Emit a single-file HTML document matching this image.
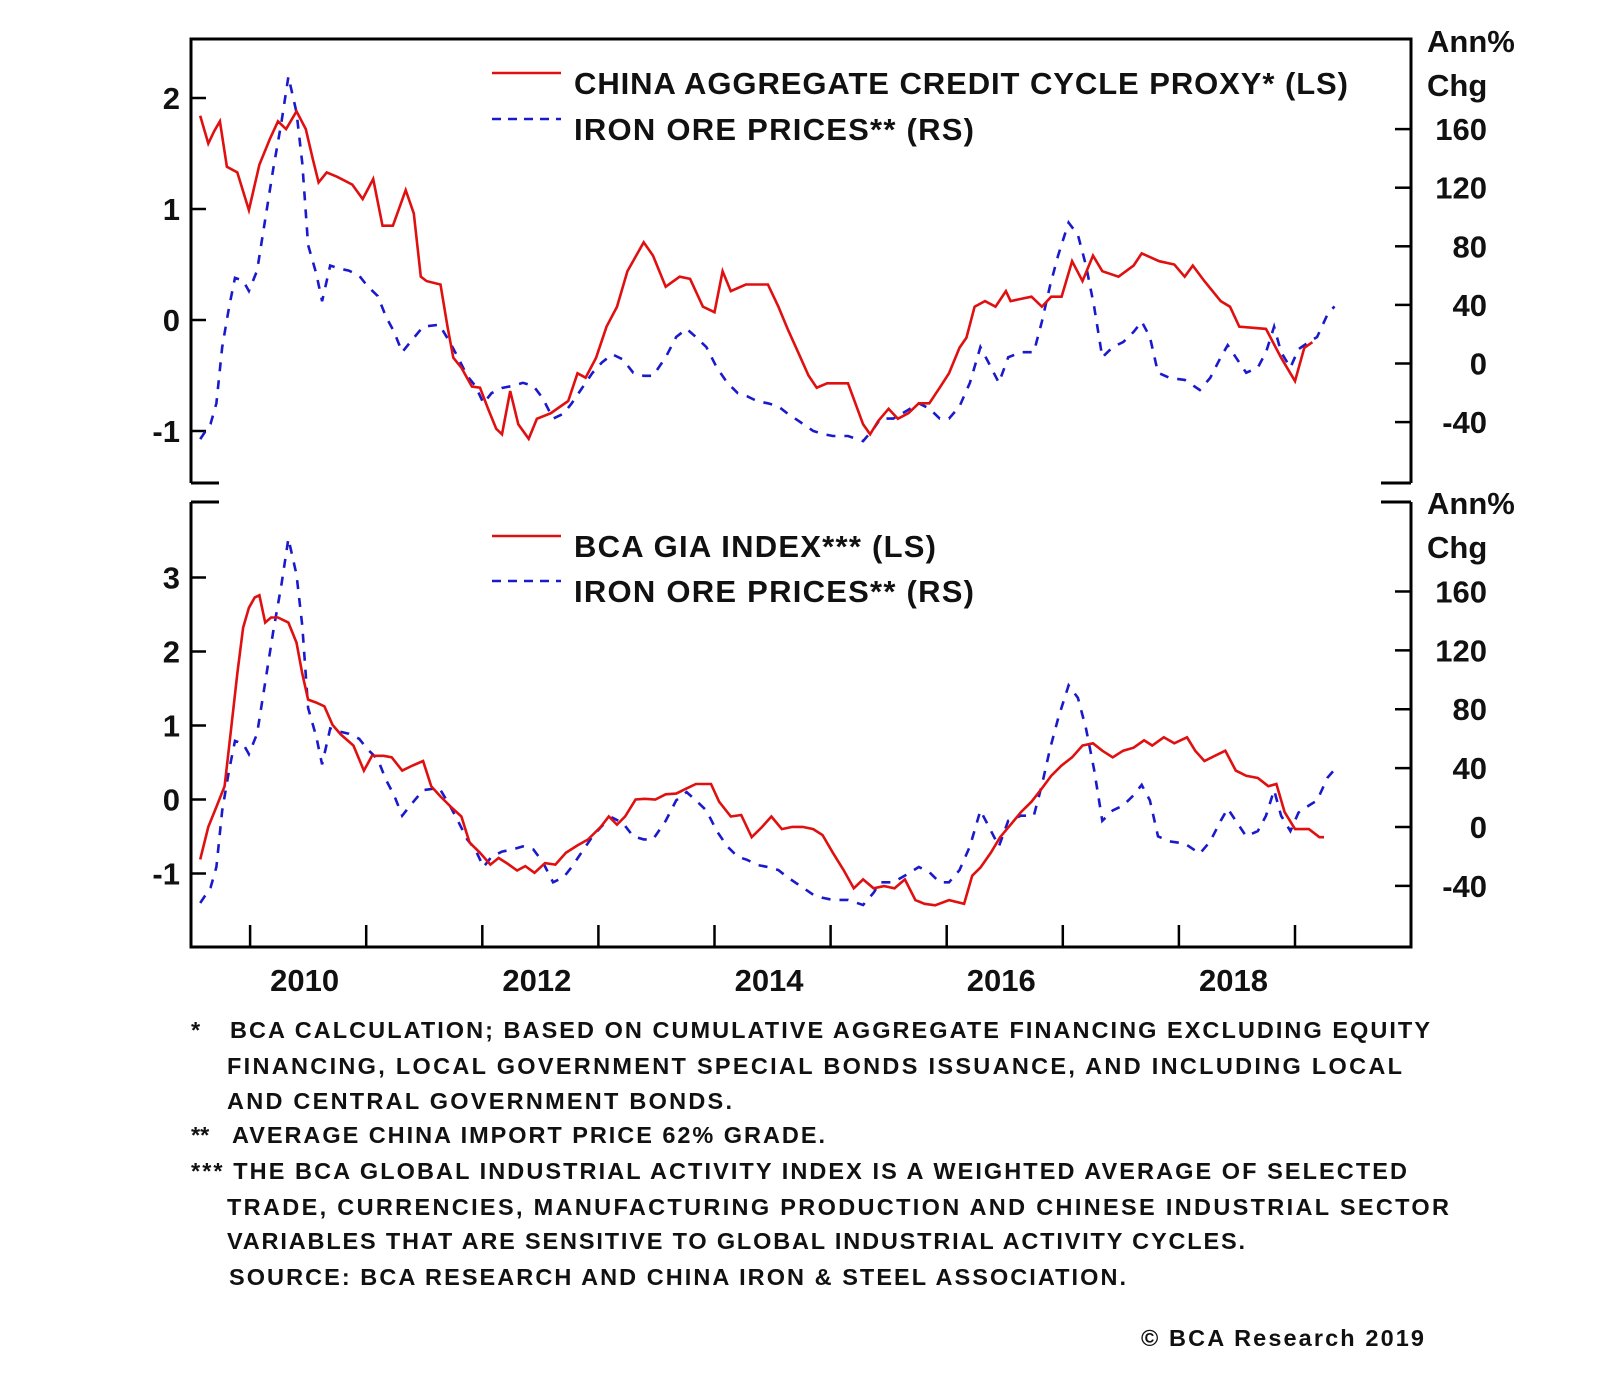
<!DOCTYPE html>
<html><head><meta charset="utf-8">
<style>
html,body{margin:0;padding:0;background:#fff;}
svg{display:block;}
text{font-family:"Liberation Sans",sans-serif;font-weight:bold;fill:#111;}
</style></head>
<body>
<svg id="chart" width="1600" height="1375" viewBox="0 0 1600 1375">
  <g id="frames"></g>
  <g id="marks"></g>
  <g id="labels"></g>
  <g id="notes" style="font-size:23.5px">
    <text x="191" y="1038">*</text>
    <text x="230" y="1038" textLength="1200">BCA CALCULATION; BASED ON CUMULATIVE AGGREGATE FINANCING EXCLUDING EQUITY</text>
    <text x="227" y="1074" textLength="1175">FINANCING, LOCAL GOVERNMENT SPECIAL BONDS ISSUANCE, AND INCLUDING LOCAL</text>
    <text x="227" y="1109" textLength="505">AND CENTRAL GOVERNMENT BONDS.</text>
    <text x="191" y="1143">**</text>
    <text x="232" y="1143" textLength="593">AVERAGE CHINA IMPORT PRICE 62% GRADE.</text>
    <text x="191" y="1179" textLength="1216">*** THE BCA GLOBAL INDUSTRIAL ACTIVITY INDEX IS A WEIGHTED AVERAGE OF SELECTED</text>
    <text x="227" y="1215" textLength="1222">TRADE, CURRENCIES, MANUFACTURING PRODUCTION AND CHINESE INDUSTRIAL SECTOR</text>
    <text x="227" y="1249" textLength="1018">VARIABLES THAT ARE SENSITIVE TO GLOBAL INDUSTRIAL ACTIVITY CYCLES.</text>
    <text x="229" y="1285" textLength="897">SOURCE: BCA RESEARCH AND CHINA IRON &amp; STEEL ASSOCIATION.</text>
    <text x="1141" y="1346" textLength="283">© BCA Research 2019</text>
  </g>
</svg>
<script>
const creditDates=[2009.57,2009.64,2009.69,2009.74,2009.80,2009.89,2009.99,2010.08,2010.17,2010.24,2010.31,2010.40,2010.48,2010.54,2010.59,2010.66,2010.75,2010.88,2010.97,2011.06,2011.14,2011.23,2011.34,2011.41,2011.47,2011.52,2011.64,2011.70,2011.75,2011.82,2011.91,2011.98,2012.05,2012.12,2012.17,2012.24,2012.31,2012.40,2012.47,2012.59,2012.74,2012.82,2012.89,2012.98,2013.07,2013.16,2013.25,2013.39,2013.47,2013.58,2013.70,2013.79,2013.90,2014.00,2014.07,2014.14,2014.27,2014.46,2014.55,2014.63,2014.72,2014.81,2014.88,2014.97,2015.15,2015.28,2015.34,2015.41,2015.50,2015.58,2015.67,2015.76,2015.85,2015.94,2016.02,2016.11,2016.17,2016.24,2016.33,2016.42,2016.51,2016.55,2016.64,2016.73,2016.82,2016.90,2016.99,2017.08,2017.17,2017.26,2017.34,2017.48,2017.61,2017.68,2017.83,2017.96,2018.05,2018.12,2018.22,2018.36,2018.44,2018.52,2018.75,2018.88,2019.00,2019.08,2019.15];
const creditValues=[1.84,1.59,1.70,1.79,1.38,1.33,0.99,1.40,1.63,1.79,1.72,1.88,1.72,1.45,1.24,1.33,1.29,1.22,1.09,1.27,0.85,0.85,1.17,0.96,0.39,0.35,0.32,-0.06,-0.34,-0.43,-0.60,-0.61,-0.80,-0.98,-1.03,-0.64,-0.94,-1.07,-0.89,-0.84,-0.73,-0.48,-0.52,-0.34,-0.06,0.12,0.44,0.70,0.58,0.30,0.39,0.37,0.12,0.07,0.44,0.26,0.32,0.32,0.12,-0.08,-0.29,-0.50,-0.61,-0.57,-0.57,-0.94,-1.03,-0.91,-0.80,-0.89,-0.84,-0.75,-0.75,-0.61,-0.48,-0.25,-0.16,0.12,0.17,0.12,0.26,0.17,0.19,0.21,0.12,0.21,0.21,0.53,0.35,0.58,0.44,0.39,0.49,0.60,0.53,0.50,0.39,0.49,0.35,0.17,0.12,-0.06,-0.08,-0.34,-0.55,-0.25,-0.20];
const oreDates=[2009.57,2009.66,2009.71,2009.76,2009.82,2009.87,2009.94,2009.99,2010.06,2010.13,2010.20,2010.27,2010.33,2010.40,2010.45,2010.50,2010.57,2010.62,2010.69,2010.77,2010.85,2010.94,2011.01,2011.10,2011.17,2011.24,2011.31,2011.38,2011.49,2011.63,2011.72,2011.79,2011.87,2011.94,2012.01,2012.08,2012.17,2012.26,2012.35,2012.44,2012.52,2012.61,2012.70,2012.77,2012.86,2012.95,2013.03,2013.12,2013.21,2013.30,2013.39,2013.47,2013.58,2013.67,2013.76,2013.84,2013.93,2014.02,2014.11,2014.20,2014.28,2014.37,2014.46,2014.55,2014.63,2014.72,2014.85,2014.93,2015.02,2015.15,2015.28,2015.37,2015.43,2015.54,2015.66,2015.76,2015.85,2015.94,2016.02,2016.11,2016.20,2016.29,2016.36,2016.45,2016.53,2016.64,2016.75,2016.82,2016.89,2016.96,2017.05,2017.13,2017.20,2017.27,2017.34,2017.43,2017.52,2017.61,2017.68,2017.75,2017.82,2017.92,2018.05,2018.18,2018.27,2018.36,2018.42,2018.49,2018.58,2018.68,2018.75,2018.82,2018.88,2018.96,2019.03,2019.12,2019.19,2019.28,2019.34];
const oreValues=[-51.6,-41.1,-27.2,11.2,39.0,58.5,56.5,49.5,63.4,98.3,133.1,164.5,195.9,171.5,136.6,80.9,61.3,42.5,66.9,64.8,63.4,59.9,52.9,46.0,32.1,21.6,7.7,14.6,25.1,26.5,14.6,4.2,-8.4,-15.3,-27.2,-20.2,-16.7,-15.3,-13.2,-15.3,-23.7,-37.6,-34.2,-27.2,-16.7,-6.3,0.7,6.3,2.8,-6.3,-8.4,-8.4,4.2,18.1,23.7,18.1,11.2,-2.8,-13.2,-20.2,-22.3,-25.8,-27.2,-29.3,-34.2,-39.0,-46.0,-48.1,-49.5,-49.5,-53.0,-44.6,-37.6,-37.6,-32.1,-27.2,-30.7,-37.6,-37.6,-29.3,-13.2,11.2,0.7,-13.2,4.2,7.7,7.7,28.6,53.0,73.9,96.2,87.8,66.9,39.0,4.2,11.2,14.6,21.6,28.6,18.1,-6.3,-9.8,-11.2,-18.1,-9.8,4.2,12.5,4.2,-6.3,-2.8,7.7,25.1,7.7,-2.8,9.8,14.6,18.1,33.5,39.0];
const giaDates=[2009.57,2009.64,2009.71,2009.78,2009.83,2009.89,2009.94,2009.99,2010.04,2010.08,2010.13,2010.18,2010.24,2010.33,2010.40,2010.45,2010.50,2010.57,2010.64,2010.71,2010.78,2010.89,2010.98,2011.05,2011.15,2011.22,2011.31,2011.40,2011.49,2011.56,2011.64,2011.73,2011.82,2011.89,2011.98,2012.07,2012.14,2012.21,2012.30,2012.37,2012.45,2012.54,2012.63,2012.72,2012.82,2012.91,2013.02,2013.09,2013.16,2013.23,2013.32,2013.40,2013.49,2013.58,2013.67,2013.76,2013.84,2013.97,2014.04,2014.14,2014.23,2014.32,2014.41,2014.49,2014.58,2014.67,2014.76,2014.85,2014.93,2015.02,2015.11,2015.20,2015.28,2015.37,2015.46,2015.55,2015.64,2015.73,2015.81,2015.90,2016.02,2016.15,2016.22,2016.29,2016.38,2016.46,2016.55,2016.64,2016.73,2016.82,2016.90,2016.99,2017.08,2017.17,2017.26,2017.34,2017.43,2017.52,2017.61,2017.70,2017.77,2017.87,2017.96,2018.07,2018.14,2018.22,2018.31,2018.40,2018.49,2018.58,2018.68,2018.77,2018.84,2018.91,2019.00,2019.12,2019.21,2019.25];
const giaValues=[-0.81,-0.37,-0.10,0.18,0.87,1.70,2.32,2.59,2.73,2.76,2.39,2.46,2.46,2.39,2.12,1.70,1.35,1.31,1.26,1.01,0.88,0.73,0.39,0.59,0.59,0.57,0.39,0.46,0.52,0.18,0.04,-0.10,-0.23,-0.58,-0.72,-0.88,-0.79,-0.86,-0.96,-0.90,-0.99,-0.86,-0.88,-0.72,-0.62,-0.54,-0.37,-0.23,-0.34,-0.23,0.00,0.01,0.00,0.07,0.08,0.15,0.21,0.21,-0.03,-0.23,-0.21,-0.51,-0.37,-0.23,-0.40,-0.37,-0.37,-0.40,-0.48,-0.72,-0.95,-1.20,-1.08,-1.20,-1.17,-1.20,-1.08,-1.36,-1.41,-1.43,-1.36,-1.41,-1.03,-0.92,-0.72,-0.51,-0.34,-0.17,-0.03,0.15,0.32,0.46,0.57,0.73,0.76,0.66,0.57,0.66,0.70,0.80,0.73,0.84,0.76,0.84,0.66,0.52,0.59,0.66,0.39,0.32,0.29,0.18,0.21,-0.17,-0.40,-0.40,-0.51,-0.51];
const yearTicks=[2010,2011,2012,2013,2014,2015,2016,2017,2018,2019];
const yearLabels=[2010,2012,2014,2016,2018];
const topLeftTicks=[2,1,0,-1];
const botLeftTicks=[3,2,1,0,-1];
const rightTicks=[160,120,80,40,0,-40];

const NS='http://www.w3.org/2000/svg';
function mk(tag,attrs,parent){const e=document.createElementNS(NS,tag);for(const k in attrs)e.setAttribute(k,attrs[k]);parent.appendChild(e);return e;}
const L=191,R=1411;
const xS=y=>250.1+(y-2010)*116.1;
const yTL=v=>320-111*v;
const yTR=v=>363.5-v*1.465;
const yBL=v=>799.5-74*v;
const yBR=v=>827-v*1.472;
const frames=document.getElementById('frames'),marks=document.getElementById('marks'),labels=document.getElementById('labels');

// frames
let p=mk('path',{d:`M${L},483 V39 H${R} V483 M${L},483 H${L+28} M${R},483 H${R-30}`,fill:'none',stroke:'#000','stroke-width':3},frames);


p=mk('path',{d:`M${L},502 V947 H${R} V502 M${L},502 H${L+28} M${R},502 H${R-30}`,fill:'none',stroke:'#000','stroke-width':3},frames);



function tick(x1,y1,x2,y2,name){const t=mk('line',{x1,y1,x2,y2,stroke:'#000','stroke-width':2.5},frames);

}
function label(x,y,txt,anchor,size,name){const t=mk('text',{x,y,'text-anchor':anchor,'font-size':size},labels);t.textContent=txt;

return t;}

topLeftTicks.forEach(v=>{tick(L,yTL(v),L+15,yTL(v),'top-left-tick');label(180,yTL(v)+11,String(v),'end',31,'top-left-tick-label');});
botLeftTicks.forEach(v=>{tick(L,yBL(v),L+15,yBL(v),'bottom-left-tick');label(180,yBL(v)+11,String(v),'end',31,'bottom-left-tick-label');});
rightTicks.forEach(v=>{tick(R,yTR(v),R-16,yTR(v),'top-right-tick');label(1487,yTR(v)+11,String(v),'end',31,'top-right-tick-label');
tick(R,yBR(v),R-16,yBR(v),'bottom-right-tick');label(1487,yBR(v)+11,String(v),'end',31,'bottom-right-tick-label');});
yearTicks.forEach(y=>tick(xS(y),947,xS(y),925,'x-axis-tick'));
yearLabels.forEach(y=>label(xS(y+0.47),991,String(y),'middle',31,'x-axis-year-label'));
[['Ann%',52],['Chg',96],['Ann%',514],['Chg',558]].forEach(a=>label(1427,a[1],a[0],'start',31,'right-axis-unit'));

function line(dates,vals,xs,ys,color,dash,name){
  const d=dates.map((t,i)=>(i?'L':'M')+xs(t).toFixed(1)+','+ys(vals[i]).toFixed(1)).join(' ');
  const a={d,fill:'none',stroke:color,'stroke-width':2.6,'stroke-linejoin':'miter'};
  if(dash)a['stroke-dasharray']=dash;
  const e=mk('path',a,marks);
  
  
}
line(oreDates,oreValues,xS,yTR,'#1a1acc','9,9','top-iron-ore-line');
line(creditDates,creditValues,xS,yTL,'#e01010',null,'credit-cycle-line');
line(oreDates,oreValues,xS,yBR,'#1a1acc','9,9','bottom-iron-ore-line');
line(giaDates,giaValues,xS,yBL,'#e01010',null,'gia-index-line');

// legends
function legend(y,txt,color,dash,w,name){
  const a={x1:492,x2:561,y1:y,y2:y,stroke:color,'stroke-width':2.6};if(dash)a['stroke-dasharray']=dash;
  const l=mk('line',a,labels);
  
  
  const t=label(574,y+21,txt,'start',31,name);t.setAttribute('textLength',w);
}
legend(73,'CHINA AGGREGATE CREDIT CYCLE PROXY* (LS)','#e01010',null,774,'legend-credit-cycle');
legend(119,'IRON ORE PRICES** (RS)','#1a1acc','9,7',400,'legend-iron-ore-top');
legend(536,'BCA GIA INDEX*** (LS)','#e01010',null,362,'legend-gia-index');
legend(581,'IRON ORE PRICES** (RS)','#1a1acc','9,7',400,'legend-iron-ore-bottom');
</script>
</body></html>
